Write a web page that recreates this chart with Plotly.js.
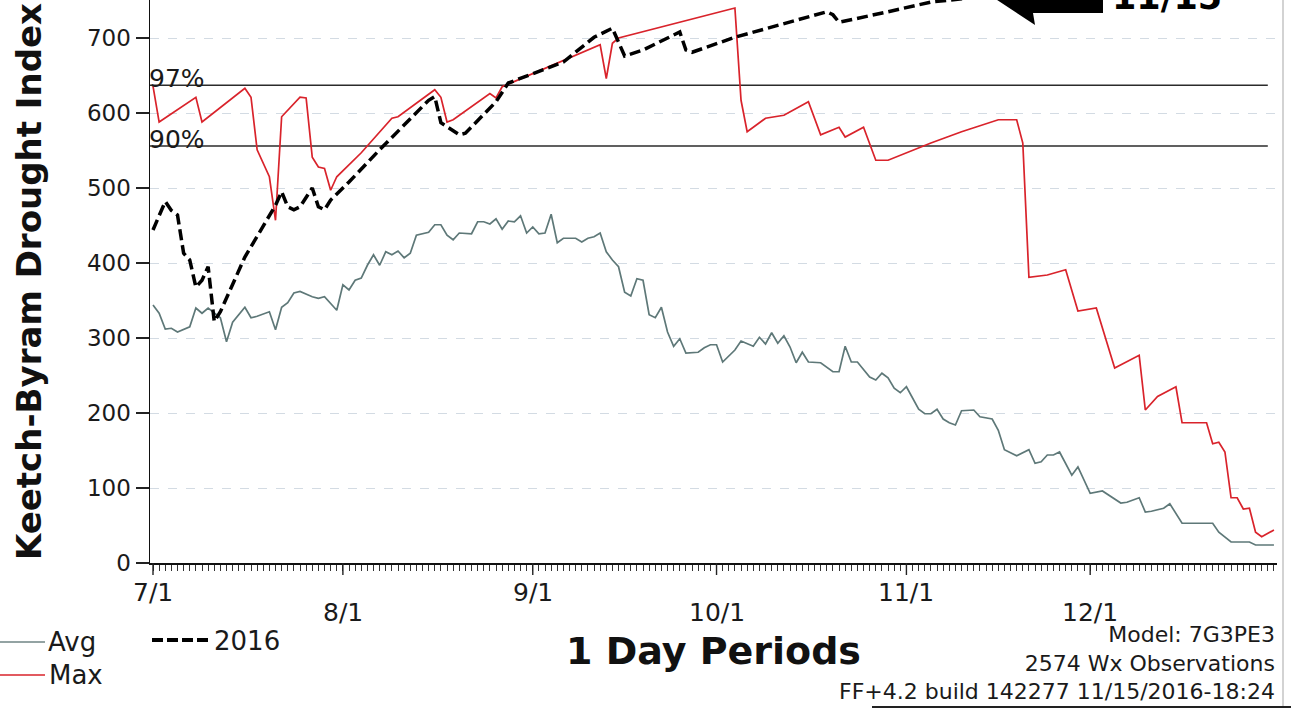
<!DOCTYPE html>
<html><head><meta charset="utf-8">
<script src="https://cdn.plot.ly/plotly-3.0.1.min.js"></script>
<style>html,body{margin:0;padding:0;background:#fff;} #chart{width:1291px;height:710px;}</style>
</head><body><div id="chart"></div>
<script>
// ---- data (day 0 = 7/1) ----
const avgDays = [0,1,2,3,4,6,7,8,9,11,12,13,15,16,17,19,20,21,22,23,24,26,27,28,30,31,32,33,34,35,36,37,38,39,40,41,42,43,45,46,47,48,49,50,52,53,54,55,56,57,58,59,60,61,62,63,64,65,66,67,69,70,71,72,73,74,75,76,77,78,79,80,81,82,83,84,85,86,87,89,90,91,92,93,95,96,98,99,100,101,102,103,104,105,106,107,109,111,112,113,114,115,117,118,119,120,121,122,123,124,125,126,127,128,129,130,131,132,134,135,137,138,139,141,143,144,145,146,147,148,150,151,153,155,156,158,159,161,162,163,165,166,168,170,173,174,176,179,180,183];
const avgVals = [344,333,312,313,308,315,340,333,340,327,295,321,341,327,329,335,311,341,347,360,362,355,353,355,337,371,364,377,380,397,411,397,415,411,416,407,413,437,441,451,451,437,431,440,439,455,455,452,459,445,456,455,463,440,448,439,440,465,427,433,433,428,433,435,440,415,404,395,361,356,379,377,331,327,341,308,289,299,280,281,287,291,291,268,284,296,289,301,292,307,293,303,288,267,281,268,267,255,255,289,268,268,248,244,253,247,233,227,235,220,205,199,199,205,192,187,184,203,204,195,192,177,151,143,151,133,135,144,144,148,117,128,93,96,91,80,81,87,68,69,73,79,53,53,53,41,28,28,24,24];

const maxDays = [0,1,7,8,15,16,17,19,20,21,24,25,26,27,28,29,30,34,39,40,46,47,48,49,55,56,57,65,73,74,75,76,85,95,96,97,100,103,107,109,112,113,116,118,120,127,132,138,141,142,143,146,149,151,154,157,161,162,164,167,168,172,173,174,175,176,177,178,179,180,181,183];
const maxVals = [636,588,621,588,633,621,551,515,457,595,621,620,541,528,526,497,515,547,593,595,631,621,588,591,626,620,635,663,691,646,693,700,719,740,617,575,593,597,615,571,581,568,581,537,537,560,575,591,591,560,381,384,391,336,340,260,277,204,222,235,187,187,159,161,148,87,87,72,73,41,35,44];

const y2016Days = [0,2,3,4,5,6,7,8,9,10,11,15,20,21,22,23,24,26,27,28,29,32,37,45,46,47,50,51,56,58,67,72,75,76,77,80,86,87,88,95,102,110,111,112,120,127,133,137];
const y2016Vals = [444,482,470,464,413,404,368,377,395,322,335,408,477,495,475,471,475,500,475,471,484,508,551,617,622,587,571,573,615,640,668,701,713,695,676,684,708,684,681,701,717,735,731,721,735,748,753,756];

const pctLabels = ['97%','90%'];
const pctVals = [637,556];
const pctEndDay = 182;

const tickDays = [0,31,62,92,123,153];
const tickLabels = ['7/1','8/1','9/1','10/1','11/1','12/1'];
const yTicks = [0,100,200,300,400,500,600,700];

// ---- layout helpers ----
const W=1291,H=710,L=150,R=14,T=0,B=147;
const plotW=W-L-R, plotH=H-T-B;
const P = px => (px-L)/plotW;
const Q = py => (H-B-py)/plotH;
function path(pts){return 'M'+pts.map(p=>P(p[0]).toFixed(4)+','+Q(p[1]).toFixed(4)).join('L')+'Z';}
const FONT='DejaVu Sans';
const TXT='#1a1a1a';

const traces = [];
pctVals.forEach(v=>{
  traces.push({x:[-0.49,pctEndDay],y:[v,v],mode:'lines',line:{color:'#2b2b2b',width:1.3},hoverinfo:'skip',showlegend:false});
});
traces.push({x:avgDays,y:avgVals,name:'Avg',mode:'lines',line:{color:'#5e7878',width:1.7},showlegend:false});
traces.push({x:maxDays,y:maxVals,name:'Max',mode:'lines',line:{color:'#d9232b',width:1.7},showlegend:false});
traces.push({x:y2016Days,y:y2016Vals,name:'2016',mode:'lines',line:{color:'#000',width:3.5,dash:'11px,5px'},showlegend:false});

const ann = [];
tickLabels.forEach((t,i)=>{
  ann.push({text:t,x:tickDays[i],xref:'x',y:0,yref:'paper',yanchor:'middle',xanchor:'center',
    yshift: i%2===0 ? -29 : -49, showarrow:false, font:{family:FONT,size:25,color:TXT}});
});
pctLabels.forEach((t,i)=>{
  ann.push({text:t,x:0,xref:'paper',xanchor:'left',xshift:-3,y:pctVals[i],yref:'y',yanchor:'bottom',yshift:-10,
    showarrow:false,font:{family:FONT,size:25,color:TXT}});
});
// legend
ann.push({text:'Avg',x:P(46),y:Q(642),xref:'paper',yref:'paper',xanchor:'left',yanchor:'middle',showarrow:false,font:{family:FONT,size:26,color:TXT}});
ann.push({text:'Max',x:P(47),y:Q(675),xref:'paper',yref:'paper',xanchor:'left',yanchor:'middle',showarrow:false,font:{family:FONT,size:26,color:TXT}});
ann.push({text:'2016',x:P(212),y:Q(641),xref:'paper',yref:'paper',xanchor:'left',yanchor:'middle',showarrow:false,font:{family:FONT,size:26,color:TXT}});
// footer (one text block, three lines)
const foot=['Model: 7G3PE3','2574 Wx Observations','FF+4.2 build 142277 11/15/2016-18:24'];
ann.push({text:foot.join('<br>'),align:'right',x:P(1277),y:Q(663),xref:'paper',yref:'paper',xanchor:'right',yanchor:'middle',showarrow:false,font:{family:FONT,size:22,color:TXT}});
// 11/15 callout
ann.push({text:'<b>11/15</b>',x:P(1110),y:Q(-3),xref:'paper',yref:'paper',xanchor:'left',yanchor:'middle',showarrow:false,font:{family:FONT,size:35,color:'#000'}});

const shapes = [
  {type:'path',xref:'paper',yref:'paper',path:path([[985,-8],[1035,25],[1033,13],[1103,13],[1103,-20],[985,-20]]),fillcolor:'#000',line:{width:0}},
  {type:'line',xref:'paper',yref:'paper',x0:P(0),x1:P(45),y0:Q(642),y1:Q(642),line:{color:'#6f8585',width:1.5}},
  {type:'line',xref:'paper',yref:'paper',x0:P(0),x1:P(45),y0:Q(675),y1:Q(675),line:{color:'#d9232b',width:1.5}},
  {type:'line',xref:'paper',yref:'paper',x0:P(152),x1:P(211),y0:Q(640),y1:Q(640),line:{color:'#000',width:4,dash:'11px,4px'}},
  {type:'line',xref:'paper',yref:'paper',x0:P(1283),x1:P(1283),y0:Q(0),y1:Q(707),line:{color:'#c4c4c4',width:1.5}},
  {type:'line',xref:'paper',yref:'paper',x0:P(872),x1:P(1291),y0:Q(707),y1:Q(707),line:{color:'#222',width:2}}
];
// taller month ticks
tickDays.forEach(d=>shapes.push({type:'line',xref:'x',yref:'paper',x0:d,x1:d,y0:0,y1:-12/plotH,line:{color:'#222',width:1.4}}));

const layout = {
  width:W,height:H,margin:{l:L,r:R,t:T,b:B,pad:0},
  paper_bgcolor:'#fff',plot_bgcolor:'#fff',showlegend:false,
  xaxis:{range:[-0.49,183.5],showline:true,linecolor:'#111',linewidth:1.5,zeroline:false,showgrid:false,
    ticks:'outside',tickmode:'linear',tick0:0,dtick:1,ticklen:6,tickwidth:1,tickcolor:'#333',showticklabels:false,
    title:{text:'<b>1 Day Periods</b>',font:{family:FONT,size:38,color:'#111'},standoff:68},automargin:false},
  yaxis:{range:[0,750.7],showline:true,linecolor:'#111',linewidth:1.5,zeroline:false,
    tickmode:'array',tickvals:yTicks,ticks:'outside',ticklen:13,tickwidth:1.3,tickcolor:'#222',
    tickfont:{family:FONT,size:23,color:TXT},
    showgrid:true,gridcolor:'#d3dbe3',griddash:'dash',gridwidth:1,
    title:{text:'<b>Keetch-Byram Drought Index</b>',font:{family:FONT,size:34,color:'#111'},standoff:35},automargin:false},
  annotations:ann, shapes:shapes
};
Plotly.newPlot('chart',traces,layout,{staticPlot:true,displayModeBar:false});
</script></body></html>
